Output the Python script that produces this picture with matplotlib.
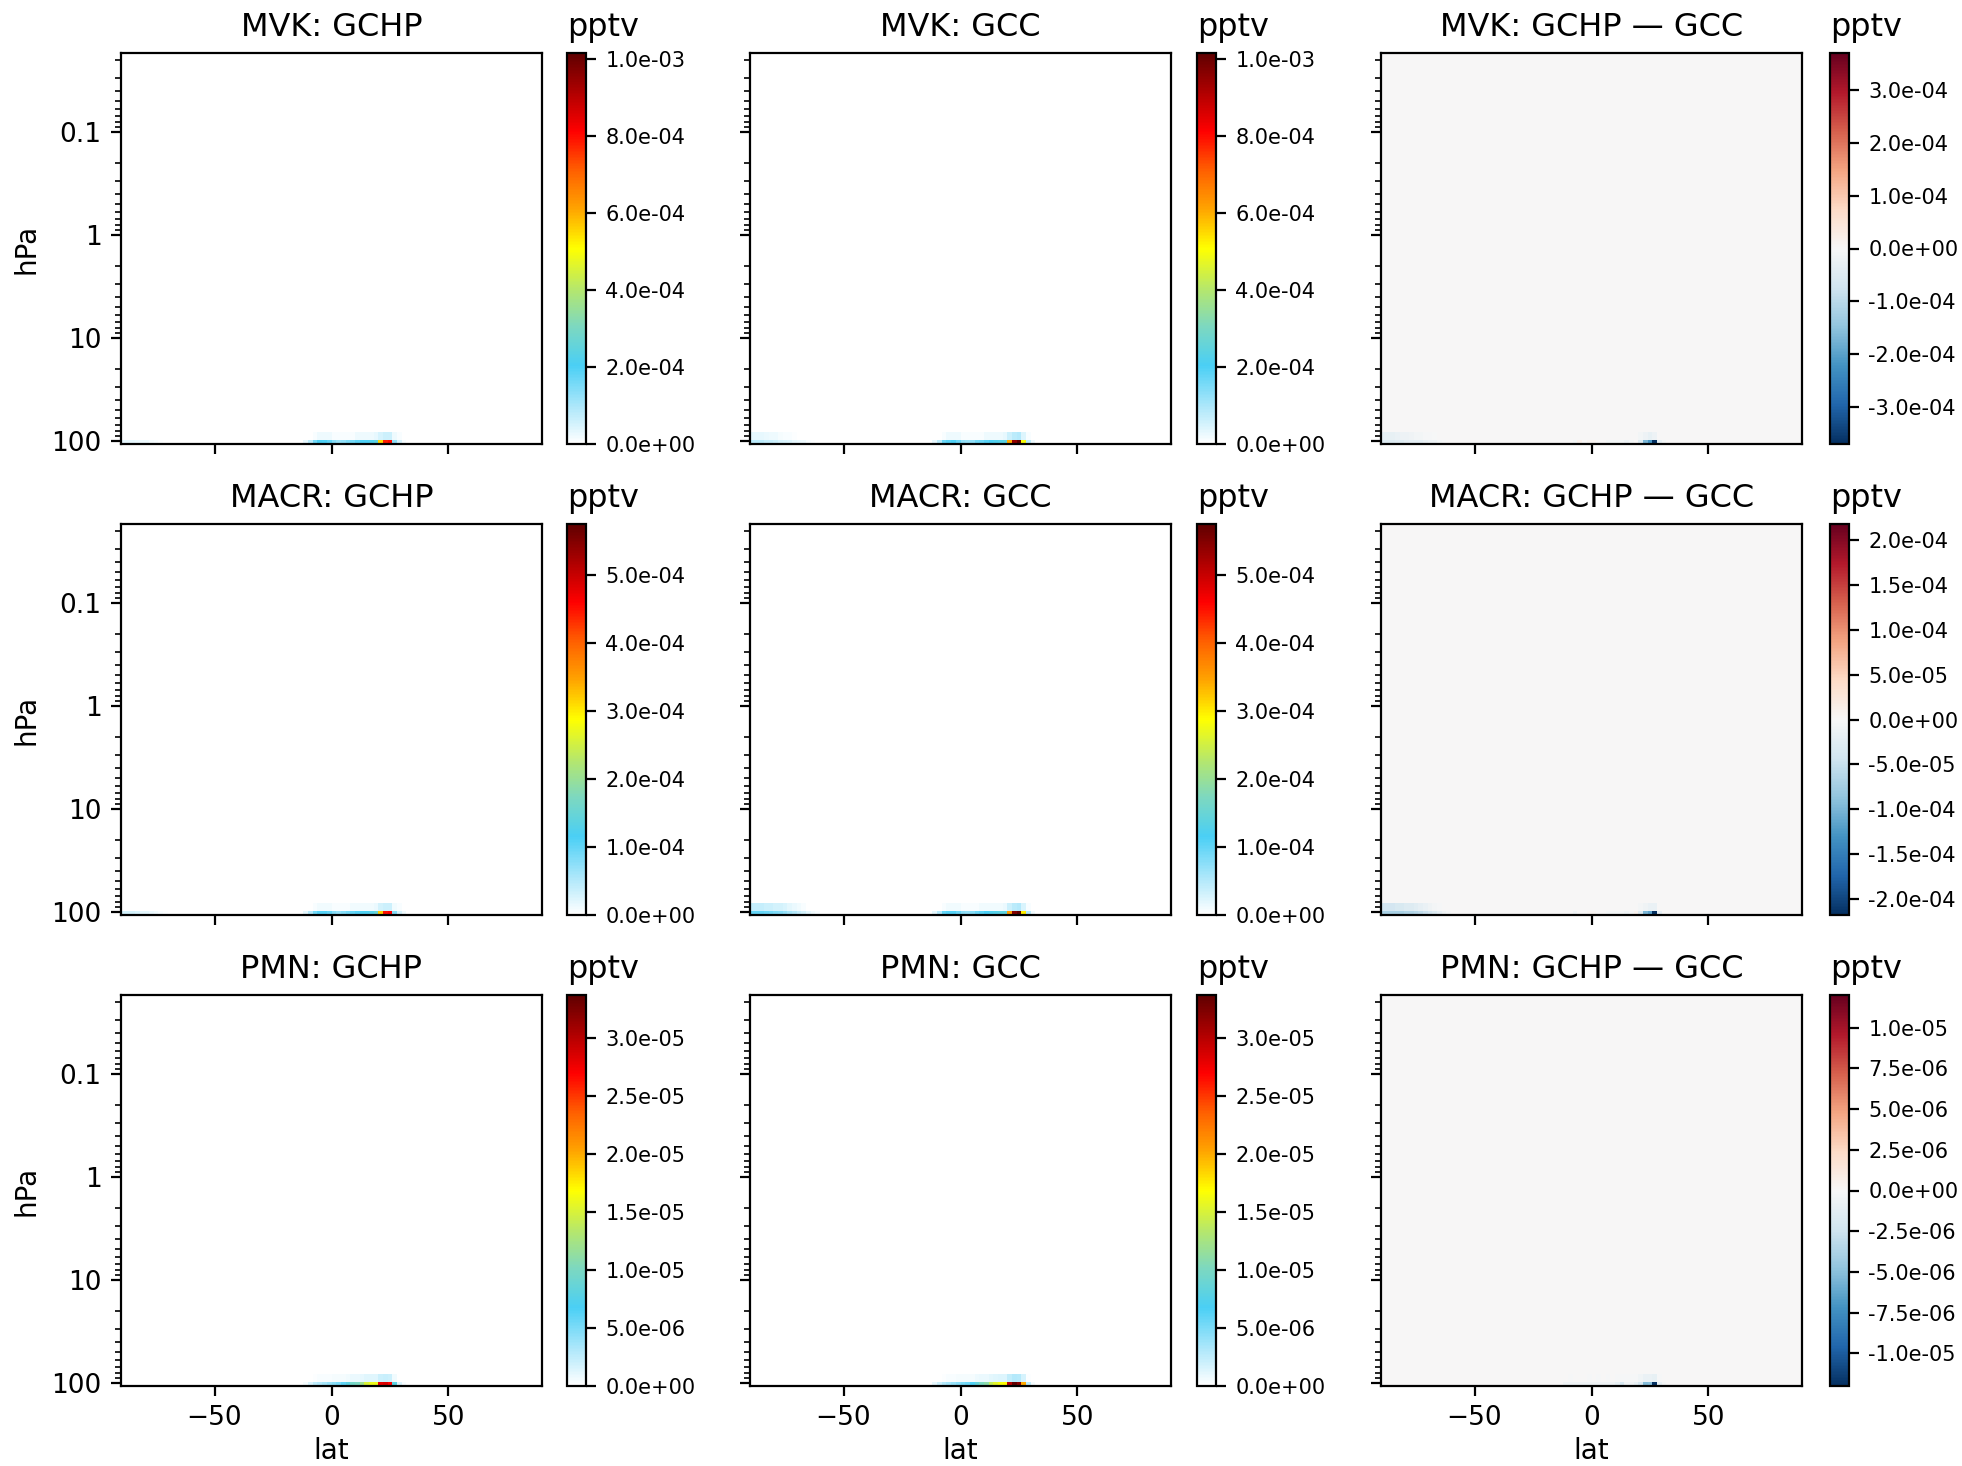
import numpy as np
import matplotlib
matplotlib.use("Agg")
import matplotlib.pyplot as plt
from matplotlib.colors import LinearSegmentedColormap
from matplotlib.ticker import MultipleLocator

# species shown in each row and the colorbar unit
species = ["MVK", "MACR", "PMN"]
units = "pptv"

# grid: 2-degree latitude cells, pressure edges (hPa) from bottom to top
lat_edges = np.arange(-90, 91, 2)
press_edges = [107.6, 98.5, 82.0, 68.0, 56.0, 40.0, 28.0, 16.0, 9.0, 5.0,
               2.6, 1.3, 0.62, 0.28, 0.12, 0.05, 0.0172]

# latitudes (cell centres) where the fields are non-zero
tropic_lats = [-11, -9, -7, -5, -3, -1, 1, 3, 5, 7, 9, 11, 13, 15, 17, 19,
               21, 23, 25, 27, 29, 31]
polar_lats = [-89, -87, -85, -83, -81, -79, -77, -75, -73, -71, -69, -67,
              -65, -63, -61]

# MVK (1e-4 pptv), lowest level (L1) and level above (L2)
mvk_gchp_l1 = [0.3, 0.8, 1.6, 2.1, 2.0, 1.8, 1.4, 1.2, 1.3, 1.5, 1.6, 1.8,
               2.0, 2.0, 2.2, 2.4, 5.5, 7.8, 8.0, 1.3, 0.5, 0.1]
mvk_gcc_l1 = [0.3, 0.8, 1.7, 1.9, 2.0, 1.7, 1.3, 1.2, 1.3, 1.6, 1.7, 1.9,
              2.1, 2.2, 2.3, 2.4, 6.0, 9.5, 10.16, 5.0, 0.8, 0.2]
mvk_gchp_l2 = [0, 0, 0.1, 0.2, 0.2, 0.2, 0.1, 0.1, 0.1, 0.1, 0.1, 0.2,
               0.2, 0.2, 0.2, 0.3, 0.5, 0.6, 0.6, 0.2, 0.1, 0]
mvk_gcc_l2 = [0, 0, 0.1, 0.2, 0.2, 0.2, 0.1, 0.1, 0.1, 0.1, 0.1, 0.2,
              0.2, 0.2, 0.2, 0.3, 0.6, 0.8, 0.9, 0.4, 0.1, 0]
mvk_gchp_pol = [0.3, 0.3, 0.3, 0.25, 0.2, 0.2, 0.15, 0.1, 0.05, 0.03, 0.02,
                0, 0, 0, 0]
mvk_gcc_pol = [0.8, 0.8, 0.8, 0.7, 0.7, 0.6, 0.5, 0.45, 0.4, 0.3, 0.25,
               0.2, 0.1, 0.05, 0]
mvk_gcc_pol2 = [0.3, 0.3, 0.3, 0.25, 0.2, 0.2, 0.15, 0.1, 0.1, 0.05, 0.03,
                0.02, 0, 0, 0]

# MACR (1e-4 pptv)
macr_gchp_l1 = [0.2, 0.5, 0.9, 1.1, 1.1, 1.0, 0.8, 0.7, 0.8, 0.9, 1.0, 1.1,
                1.2, 1.2, 1.3, 1.5, 3.2, 4.5, 4.6, 0.8, 0.3, 0.1]
macr_gcc_l1 = [0.2, 0.5, 1.0, 1.1, 1.1, 0.95, 0.75, 0.7, 0.8, 0.95, 1.05,
               1.15, 1.25, 1.3, 1.35, 1.4, 3.5, 5.5, 5.756, 2.98, 0.5, 0.1]
macr_gchp_l2 = [0, 0, 0.05, 0.1, 0.1, 0.1, 0.05, 0.05, 0.05, 0.05, 0.1,
                0.1, 0.1, 0.1, 0.1, 0.15, 0.3, 0.35, 0.35, 0.1, 0.05, 0]
macr_gcc_l2 = [0, 0, 0.05, 0.1, 0.1, 0.1, 0.05, 0.05, 0.05, 0.05, 0.1,
               0.1, 0.1, 0.1, 0.1, 0.15, 0.35, 0.45, 0.5, 0.25, 0.05, 0]
macr_gchp_pol = [0.3, 0.3, 0.3, 0.25, 0.2, 0.2, 0.15, 0.1, 0.05, 0.03,
                 0.02, 0, 0, 0, 0]
macr_gcc_pol = [1.0, 1.0, 1.0, 0.95, 0.9, 0.85, 0.8, 0.7, 0.6, 0.5, 0.4,
                0.3, 0.2, 0.1, 0.05]
macr_gcc_pol2 = [0.4, 0.4, 0.4, 0.35, 0.35, 0.3, 0.3, 0.25, 0.2, 0.15, 0.1,
                 0.05, 0.02, 0, 0]

# PMN (1e-6 pptv)
pmn_gchp_l1 = [0.5, 1.5, 2.5, 3.0, 3.5, 4.0, 4.5, 5.0, 6.0, 8.0, 9.5, 10.0,
               12.0, 15.0, 16.0, 16.0, 28.0, 28.5, 27.0, 8.0, 1.5, 0.3]
pmn_gcc_l1 = [1.0, 2.0, 3.0, 3.5, 4.0, 4.5, 5.0, 5.5, 6.5, 8.5, 10.0, 11.0,
              14.0, 15.5, 16.5, 17.0, 30.0, 33.67, 32.0, 20.0, 2.5, 0.5]
pmn_gchp_l2 = [0, 0, 0.2, 0.3, 0.3, 0.3, 0.4, 0.4, 0.5, 0.6, 0.8, 0.8,
               1.0, 1.2, 1.3, 1.3, 2.0, 2.2, 2.0, 0.6, 0.1, 0]
pmn_gcc_l2 = [0, 0.1, 0.2, 0.3, 0.3, 0.4, 0.4, 0.5, 0.5, 0.7, 0.8, 0.9,
              1.1, 1.3, 1.4, 1.4, 2.4, 3.0, 2.8, 1.6, 0.2, 0]

scales = [1e-4, 1e-4, 1e-6]
diff_tick_steps = [1e-4, 5e-5, 2.5e-6]
gchp_l1 = [mvk_gchp_l1, macr_gchp_l1, pmn_gchp_l1]
gcc_l1 = [mvk_gcc_l1, macr_gcc_l1, pmn_gcc_l1]
gchp_l2 = [mvk_gchp_l2, macr_gchp_l2, pmn_gchp_l2]
gcc_l2 = [mvk_gcc_l2, macr_gcc_l2, pmn_gcc_l2]
gchp_pol = [mvk_gchp_pol, macr_gchp_pol, None]
gcc_pol = [mvk_gcc_pol, macr_gcc_pol, None]
gcc_pol2 = [mvk_gcc_pol2, macr_gcc_pol2, None]


def build_field(l1, l2, pol, pol2, scale):
    nlev = len(press_edges) - 1
    field = np.zeros((nlev, len(lat_edges) - 1))
    for lat, v1, v2 in zip(tropic_lats, l1, l2):
        j = (lat + 89) // 2
        field[0, j] = v1
        field[1, j] = v2
    if pol is not None:
        for k, lat in enumerate(polar_lats):
            j = (lat + 89) // 2
            field[0, j] = pol[k]
            if pol2 is not None:
                field[1, j] = pol2[k]
    return field * scale


abs_cmap = LinearSegmentedColormap.from_list("WhGrYlRd", [
    (0.0, "#ffffff"), (0.1, "#a8e6fa"), (0.2, "#4acff5"),
    (0.3, "#7dd8c0"), (0.4, "#b8e868"), (0.5, "#ffff00"),
    (0.6, "#ffa500"), (0.7, "#ff6000"), (0.8, "#ff0000"),
    (0.9, "#b00000"), (1.0, "#600000")])

W, H = 1962, 1466
fig = plt.figure(figsize=(W / 200, H / 200), dpi=200)

col_left = [121, 750, 1381]
cb_left = [567, 1197, 1830]
row_top = [53, 524, 995]
ax_w, ax_h, cb_w = 421, 391, 19

for i, spc in enumerate(species):
    gchp = build_field(gchp_l1[i], gchp_l2[i], gchp_pol[i], None, scales[i])
    gcc = build_field(gcc_l1[i], gcc_l2[i], gcc_pol[i], gcc_pol2[i], scales[i])
    diff = gchp - gcc
    vmax_abs = max(gchp.max(), gcc.max())
    vmax_diff = np.abs(diff).max()

    panels = [(gchp, f"{spc}: GCHP", abs_cmap, 0, vmax_abs),
              (gcc, f"{spc}: GCC", abs_cmap, 0, vmax_abs),
              (diff, f"{spc}: GCHP \u2014 GCC", "RdBu_r", -vmax_diff, vmax_diff)]

    for j, (data, title, cmap, vmin, vmax) in enumerate(panels):
        bottom = H - row_top[i] - ax_h
        ax = fig.add_axes([col_left[j] / W, bottom / H, ax_w / W, ax_h / H])
        mesh = ax.pcolormesh(lat_edges, press_edges, data, cmap=cmap,
                             vmin=vmin, vmax=vmax)
        ax.set_yscale("log")
        ax.set_ylim(press_edges[0], press_edges[-1])
        ax.set_xlim(-90, 90)
        ax.set_xticks([-50, 0, 50])
        ax.set_yticks([0.1, 1, 10, 100])
        ax.set_title(title, fontsize=11.5)
        ax.tick_params(axis="both", labelsize=9.5)
        if j == 0:
            ax.set_yticklabels(["0.1", "1", "10", "100"])
            ax.set_ylabel("hPa", fontsize=10)
        else:
            ax.set_yticklabels([])
        if i == 2:
            ax.set_xlabel("lat", fontsize=10, labelpad=2)
        else:
            ax.set_xticklabels([])

        cax = fig.add_axes([cb_left[j] / W, bottom / H, cb_w / W, ax_h / H])
        cb = fig.colorbar(mesh, cax=cax, format="%.1e")
        if j == 2:
            cb.locator = MultipleLocator(diff_tick_steps[i])
            cb.update_ticks()
        cb.ax.tick_params(labelsize=7.5)
        cax.set_title(units, fontsize=11.5, loc="left")

fig.savefig("out.png", dpi=200)
